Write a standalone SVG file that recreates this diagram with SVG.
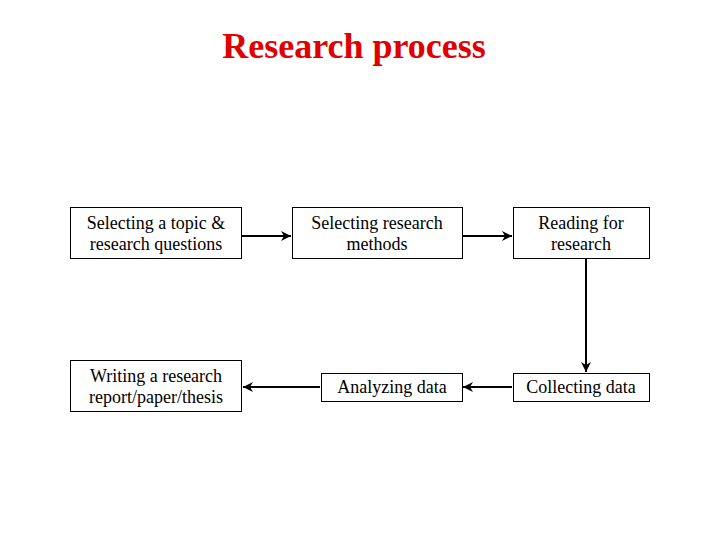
<svg xmlns="http://www.w3.org/2000/svg" width="720" height="540" viewBox="0 0 720 540">
<defs>
<style>
.box{fill:#fff;stroke:#000;stroke-width:1}
.t{font-family:"Liberation Serif","Times New Roman",serif;font-size:18px;fill:#000;text-anchor:middle}
.c{stroke:#000;stroke-width:2;fill:none;marker-end:url(#ah)}
.title{font-family:"Liberation Serif","Times New Roman",serif;font-size:36px;font-weight:bold;fill:#e00000;text-anchor:middle}
</style>
<marker id="ah" viewBox="0 0 10 10" refX="10" refY="5" markerWidth="5" markerHeight="5" orient="auto" markerUnits="strokeWidth">
<path d="M0,0 L10,5 L0,10 L3,5 z" fill="#000"/>
</marker>
</defs>
<rect width="720" height="540" fill="#fff"/>
<text class="title" x="354" y="58">Research process</text>
<g id="connectors">
<line class="c" x1="242" y1="236" x2="291" y2="236"/>
<line class="c" x1="463" y1="236" x2="512" y2="236"/>
<line class="c" x1="586" y1="259" x2="586" y2="372"/>
<line class="c" x1="512" y1="387" x2="463" y2="387"/>
<line class="c" x1="320" y1="387" x2="243" y2="387"/>
</g>
<g id="n1"><rect class="box" x="70.5" y="207.5" width="171" height="51"/>
<text class="t" x="156" y="229">Selecting a topic &amp;</text><text class="t" x="156" y="250">research questions</text></g>
<g id="n2"><rect class="box" x="292.5" y="207.5" width="170" height="51"/>
<text class="t" x="377" y="229">Selecting research</text><text class="t" x="377" y="250">methods</text></g>
<g id="n3"><rect class="box" x="513.5" y="207.5" width="136" height="51"/>
<text class="t" x="581" y="229">Reading for</text><text class="t" x="581" y="250">research</text></g>
<g id="n4"><rect class="box" x="70.5" y="360.5" width="171" height="51"/>
<text class="t" x="156" y="382">Writing a research</text><text class="t" x="156" y="403">report/paper/thesis</text></g>
<g id="n5"><rect class="box" x="321.5" y="373.5" width="141" height="28"/>
<text class="t" x="392" y="393">Analyzing data</text></g>
<g id="n6"><rect class="box" x="513.5" y="373.5" width="136" height="28"/>
<text class="t" x="581" y="393">Collecting data</text></g>
</svg>
